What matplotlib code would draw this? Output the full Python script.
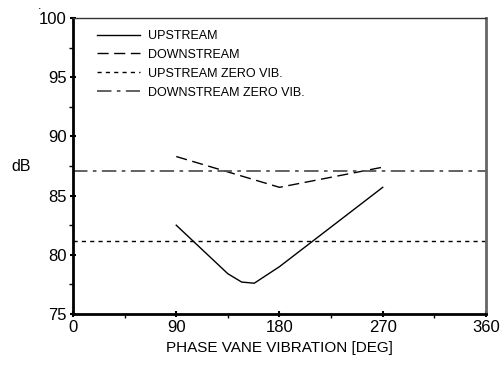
import numpy as np
import matplotlib.pyplot as plt

plt.rcParams['font.family'] = ['Liberation Sans', 'DejaVu Sans']

# phase of vane vibration [deg]
phase_up = [90, 135, 147, 158, 180, 270]
db_up = [82.5, 78.4, 77.7, 77.6, 79.0, 85.7]
phase_down = [90, 180, 270]
db_down = [88.3, 85.7, 87.4]
db_up_zero = 81.2
db_down_zero = 87.1

xticks = [0, 90, 180, 270, 360]
yticks = [75, 80, 85, 90, 95, 100]

fig = plt.figure(figsize=(5.02, 3.65), dpi=100)
ax = fig.add_axes([0.1454, 0.1397, 0.8227, 0.811])

ax.plot(phase_up, db_up, color='black', lw=1.0, label='UPSTREAM')
ax.plot(phase_down, db_down, color='black', lw=1.0, dashes=(8, 4), label='DOWNSTREAM')
ax.axhline(db_up_zero, color='black', lw=1.0, dashes=(3, 3), label='UPSTREAM ZERO VIB.')
ax.axhline(db_down_zero, color='#555555', lw=1.3, dashes=(8, 3, 2, 3), label='DOWNSTREAM ZERO VIB.')

ax.set_xlim(0, 360)
ax.set_ylim(75, 100)
ax.set_xticks(xticks)
ax.set_yticks(yticks)
ax.set_xticks(np.arange(45, 360, 90), minor=True)
ax.set_yticks(np.arange(77.5, 100, 5), minor=True)
ax.tick_params(which='major', direction='inout', length=5, width=1.5, labelsize=12, pad=2)
ax.tick_params(which='minor', direction='out', length=3, width=1)

for s in ['left', 'bottom']:
    ax.spines[s].set_linewidth(2)
    ax.spines[s].set_color('black')
ax.spines['right'].set_linewidth(2)
ax.spines['right'].set_color('#666666')
ax.spines['top'].set_linewidth(1)
ax.spines['top'].set_color('#333333')

ax.set_xlabel('PHASE VANE VIBRATION [DEG]', fontsize=11, labelpad=4)
ax.text(-0.15, 0.5, 'dB', transform=ax.transAxes, fontsize=11.5, va='center', ha='left')
fig.text(0.075, 0.975, '.', fontsize=9)

leg = ax.legend(loc='upper left', frameon=False, fontsize=9, handlelength=3.4,
                handletextpad=0.7, labelspacing=0.55, borderaxespad=0.2,
                bbox_to_anchor=(0.04, 0.985))

fig.savefig('out.png', dpi=100)
